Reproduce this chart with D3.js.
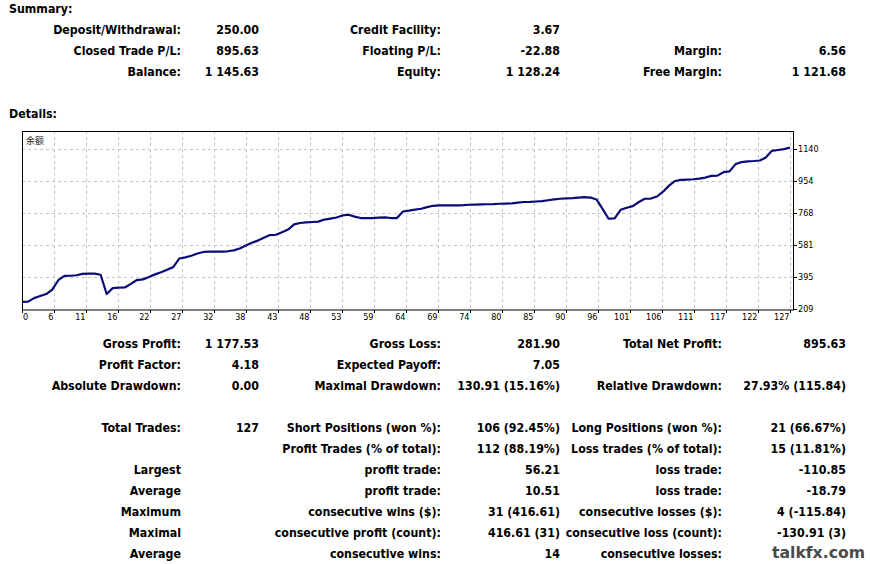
<!DOCTYPE html>
<html><head><meta charset="utf-8">
<script src="https://cdn.jsdelivr.net/npm/d3@7"></script>
<style>
html,body{margin:0;padding:0;background:#fff;}
svg{display:block;}
</style></head>
<body>
<script>
// ---------- DATA ----------
const balance = [250,252,272,284,296,322,376,401,402,405,413,414,414,408,296,330,333,334,355,377,
381,395,410,422,437,452,502,509,518,531,540,542,542,542,544,549,560,578,593,606,
622,638,640,655,670,700,708,712,714,716,728,734,740,752,756,745,737,737,737,739,
741,737,737,775,780,786,791,800,808,811,811,811,811,812,814,815,816,817,818,820,
821,822,826,830,831,833,835,840,845,849,851,853,856,858,856,845,790,733,735,785,
797,806,830,849,850,862,890,925,952,958,960,962,966,972,982,983,1003,1008,1050,1062,
1066,1068,1071,1088,1127,1132,1137,1145.63];
const xTickLabels = [0,6,11,16,22,27,32,38,43,48,53,59,64,69,74,80,85,90,96,101,106,111,117,122,127];
const yTickLabels = [209,395,581,768,954,1140];
const chartTitle = "余额";

const summaryRows = [
  ["Deposit/Withdrawal:","250.00","Credit Facility:","3.67","",""],
  ["Closed Trade P/L:","895.63","Floating P/L:","-22.88","Margin:","6.56"],
  ["Balance:","1 145.63","Equity:","1 128.24","Free Margin:","1 121.68"]
];
const detailRowsA = [
  ["Gross Profit:","1 177.53","Gross Loss:","281.90","Total Net Profit:","895.63"],
  ["Profit Factor:","4.18","Expected Payoff:","7.05","",""],
  ["Absolute Drawdown:","0.00","Maximal Drawdown:","130.91 (15.16%)","Relative Drawdown:","27.93% (115.84)"]
];
const detailRowsB = [
  ["Total Trades:","127","Short Positions (won %):","106 (92.45%)","Long Positions (won %):","21 (66.67%)"],
  ["","","Profit Trades (% of total):","112 (88.19%)","Loss trades (% of total):","15 (11.81%)"],
  ["Largest","","profit trade:","56.21","loss trade:","-110.85"],
  ["Average","","profit trade:","10.51","loss trade:","-18.79"],
  ["Maximum","","consecutive wins ($):","31 (416.61)","consecutive losses ($):","4 (-115.84)"],
  ["Maximal","","consecutive profit (count):","416.61 (31)","consecutive loss (count):","-130.91 (3)"],
  ["Average","","consecutive wins:","14","consecutive losses:",""]
];

// ---------- LAYOUT ----------
const W = 870, H = 564;
const FONT = "'DejaVu Sans Condensed','DejaVu Sans',sans-serif";
const FS = 12.3;
const colRight = [181, 259, 441, 560, 722, 846];
const svg = d3.select("body").append("svg").attr("width", W).attr("height", H);

function textRows(rows, y0, dy){
  rows.forEach((r,i)=>{
    r.forEach((t,j)=>{
      if(!t) return;
      svg.append("text").attr("x", colRight[j]).attr("y", y0 + i*dy)
        .attr("text-anchor","end").attr("font-family",FONT).attr("font-weight","bold")
        .attr("font-size",FS).attr("fill","#000").text(t);
    });
  });
}
svg.append("text").attr("x",9).attr("y",13).attr("font-family",FONT).attr("font-weight","bold").attr("font-size",FS).text("Summary:");
svg.append("text").attr("x",9).attr("y",118).attr("font-family",FONT).attr("font-weight","bold").attr("font-size",FS).text("Details:");
textRows(summaryRows, 34, 21);
textRows(detailRowsA, 348, 21);
textRows(detailRowsB, 432, 21);

// ---------- CHART ----------
const L = 22, R = 793, T = 131, B = 309;
const x = d3.scaleLinear().domain([0, balance.length-1]).range([22, 790]);
const y = d3.scaleLinear().domain([209, 1140]).range([309, 148.6]);
const g = svg.append("g");
g.append("rect").attr("x",L).attr("y",T).attr("width",R-L).attr("height",B-T).attr("fill","#fff");

const nGrid = xTickLabels.length - 1;
const xTickPos = xTickLabels.map((d,k)=> k*(balance.length-1)/nGrid);

// grid
g.selectAll(".vg").data(xTickPos.slice(1)).join("line")
  .attr("x1",d=>Math.round(x(d))+0.5).attr("x2",d=>Math.round(x(d))+0.5)
  .attr("y1",T).attr("y2",B).attr("stroke","#c4c4c4").attr("stroke-dasharray","3,3");
g.selectAll(".hg").data(yTickLabels.slice(1)).join("line")
  .attr("y1",d=>Math.round(y(d))+0.5).attr("y2",d=>Math.round(y(d))+0.5)
  .attr("x1",L).attr("x2",R).attr("stroke","#c4c4c4").attr("stroke-dasharray","3,3");

// line
g.append("path").datum(balance)
  .attr("d", d3.line().x((d,i)=>x(i)).y(d=>y(d)))
  .attr("fill","none").attr("stroke","#0b0b78").attr("stroke-width",2.2).attr("stroke-linejoin","round");

// frame
g.append("rect").attr("x",L+0.5).attr("y",T+0.5).attr("width",R-L).attr("height",B-T+0.5)
  .attr("fill","none").attr("stroke","#000").attr("stroke-width",1);

// x ticks
g.selectAll(".xt").data(xTickPos).join("line")
  .attr("x1",d=>Math.round(x(d))+0.5).attr("x2",d=>Math.round(x(d))+0.5)
  .attr("y1",B+1).attr("y2",B+4).attr("stroke","#000");
g.selectAll(".xl").data(xTickPos).join("text")
  .attr("x",(d,k)=> k===0 ? x(d)+1 : x(d)-0.5)
  .attr("y",320)
  .attr("text-anchor",(d,k)=> k===0 ? "start" : "end")
  .attr("font-family",FONT).attr("font-size",9).attr("fill","#000")
  .text((d,k)=>xTickLabels[k]);

// y ticks (right)
g.selectAll(".yt").data(yTickLabels).join("line")
  .attr("y1",d=>Math.round(y(d))+0.5).attr("y2",d=>Math.round(y(d))+0.5)
  .attr("x1",R+1).attr("x2",R+4).attr("stroke","#000");
g.selectAll(".yl").data(yTickLabels).join("text")
  .attr("x",798).attr("y",d=>y(d)+3)
  .attr("font-family",FONT).attr("font-size",9).attr("fill","#000")
  .text(d=>d);

// title inside chart
g.append("text").attr("x",26).attr("y",144).attr("font-family","'Noto Sans CJK SC',sans-serif")
  .attr("font-size",9).attr("fill","#222").text(chartTitle);

// watermark
svg.append("text").attr("x",772).attr("y",558).attr("font-family","'DejaVu Sans',sans-serif")
  .attr("font-weight","bold").attr("font-size",15).attr("fill","#4a4a4a")
  .attr("textLength",93).attr("lengthAdjust","spacingAndGlyphs").text("talkfx.com");
</script>
</body></html>
